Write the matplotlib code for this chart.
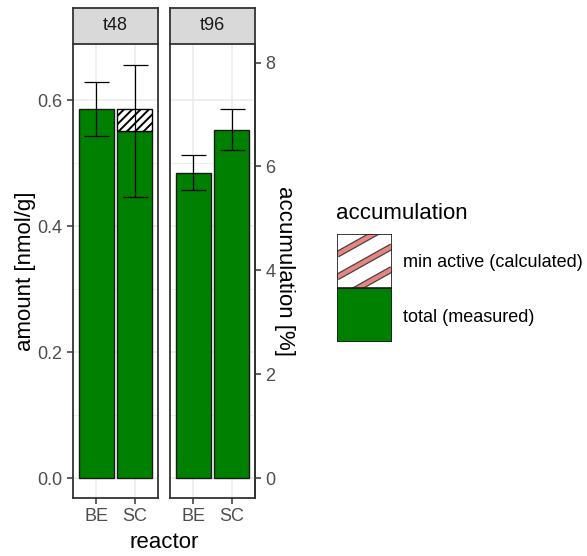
import numpy as np
import matplotlib.pyplot as plt
from matplotlib.patches import Rectangle

plt.rcParams['font.family'] = ['Liberation Sans', 'DejaVu Sans']
plt.rcParams['hatch.linewidth'] = 1.4

# data
times = ['t48', 't96']
reactors = ['BE', 'SC']
total_measured = [[0.586, 0.551], [0.485, 0.553]]
min_active = [[0.0, 0.035], [0.0, 0.0]]
err_sd = [[0.043, 0.105], [0.028, 0.033]]
pct_per_amount = 12.13  # secondary axis: accumulation [%]

green = '#008000'
edge = '#1a1a1a'
grid_col = '#EBEBEB'
tick_col = '#4D4D4D'

fig = plt.figure(figsize=(5.87, 5.56), dpi=100)

panel_x = [73, 170]
panel_w = 85
W, H = 587, 556
bot, top = 498, 44
strip_top = 8
ylo, yhi = -0.0317, 0.689

for k, t in enumerate(times):
    ax = fig.add_axes([panel_x[k] / W, (H - bot) / H, panel_w / W, (bot - top) / H])
    x = np.arange(1, len(reactors) + 1)
    ax.bar(x, total_measured[k], width=0.9, color=green, edgecolor=edge, linewidth=1, zorder=2)
    # hatched min active part stacked on top
    for i in range(len(reactors)):
        if min_active[k][i] > 0:
            ax.bar(x[i], min_active[k][i], bottom=total_measured[k][i], width=0.9,
                   color='white', edgecolor='black', hatch='////', linewidth=1, zorder=2)
    ax.errorbar(x, total_measured[k], yerr=err_sd[k], fmt='none', ecolor='black',
                elinewidth=0.9, capsize=9, capthick=0.9, zorder=3)
    ax.set_xlim(0.4, 2.6)
    ax.set_ylim(ylo, yhi)
    ax.set_xticks(x)
    ax.set_xticklabels(reactors)
    ax.set_yticks([0.0, 0.2, 0.4, 0.6])
    ax.set_yticks([0.1, 0.3, 0.5], minor=True)
    ax.grid(True, which='major', color=grid_col, linewidth=1.1, zorder=0)
    ax.grid(True, which='minor', axis='y', color=grid_col, linewidth=0.6, zorder=0)
    ax.set_axisbelow(True)
    for s in ax.spines.values():
        s.set_color('#333333')
        s.set_linewidth(1.3)
    ax.spines['top'].set_visible(False)
    ax.tick_params(axis='both', which='major', colors='#333333', labelcolor=tick_col,
                   labelsize=13, length=4, width=1.1)
    ax.tick_params(axis='y', which='minor', length=0)
    if k == 0:
        ax.set_yticklabels(['0.0', '0.2', '0.4', '0.6'])
        ax.set_ylabel('amount [nmol/g]', fontsize=16, labelpad=1)
    else:
        ax.tick_params(axis='y', left=False, labelleft=False)
        sec = ax.secondary_yaxis('right', functions=(lambda a: a * pct_per_amount,
                                                      lambda p: p / pct_per_amount))
        sec.set_yticks([0, 2, 4, 6, 8])
        sec.set_ylabel('accumulation [%]', fontsize=16, rotation=-90, labelpad=14)
        sec.tick_params(colors='#333333', labelcolor=tick_col, labelsize=13, length=4, width=1.1)
        sec.spines['right'].set_color('#333333')
        sec.spines['right'].set_linewidth(1.3)

    # facet strip
    sax = fig.add_axes([panel_x[k] / W, (H - top) / H, panel_w / W, (top - strip_top) / H])
    sax.set_facecolor('#D9D9D9')
    sax.set_xticks([])
    sax.set_yticks([])
    for s in sax.spines.values():
        s.set_color('#333333')
        s.set_linewidth(1.3)
    sax.text(0.5, 0.5, t, ha='center', va='center', fontsize=13, color='#1A1A1A',
             transform=sax.transAxes)

fig.text((73 + 256) / 2 / W, 1 - 543 / H, 'reactor', ha='center', va='center', fontsize=16)

# legend drawn by hand
fig.text(336 / W, 1 - 213 / H, 'accumulation', ha='left', va='center', fontsize=16)
lax = fig.add_axes([337 / W, (H - 342) / H, 55 / W, 108 / H])
lax.set_xlim(0, 1)
lax.set_ylim(0, 2)
lax.axis('off')
lax.add_patch(Rectangle((0, 0), 1, 1, facecolor=green, edgecolor=edge, linewidth=1.2, zorder=1))
hatch_box = Rectangle((0, 1), 1, 1, facecolor='white', edgecolor='none', zorder=1)
lax.add_patch(hatch_box)
lx = np.array([0.0, 1.0])
for off in [0.62, 0.2, -0.22]:
    ly = 1 + off + lx * 0.57
    for col, lw in [('#444444', 4.8), ('#E8857F', 3.0)]:
        ln, = lax.plot(lx, ly, color=col, linewidth=lw, solid_capstyle='butt', zorder=2)
        ln.set_clip_path(hatch_box)
lax.add_patch(Rectangle((0, 1), 1, 1, facecolor='none', edgecolor=edge, linewidth=1.2, zorder=3))
fig.text(403 / W, 1 - 263 / H, 'min active (calculated)', ha='left', va='center', fontsize=13)
fig.text(403 / W, 1 - 318 / H, 'total (measured)', ha='left', va='center', fontsize=13)

fig.savefig('out.png', dpi=100)
